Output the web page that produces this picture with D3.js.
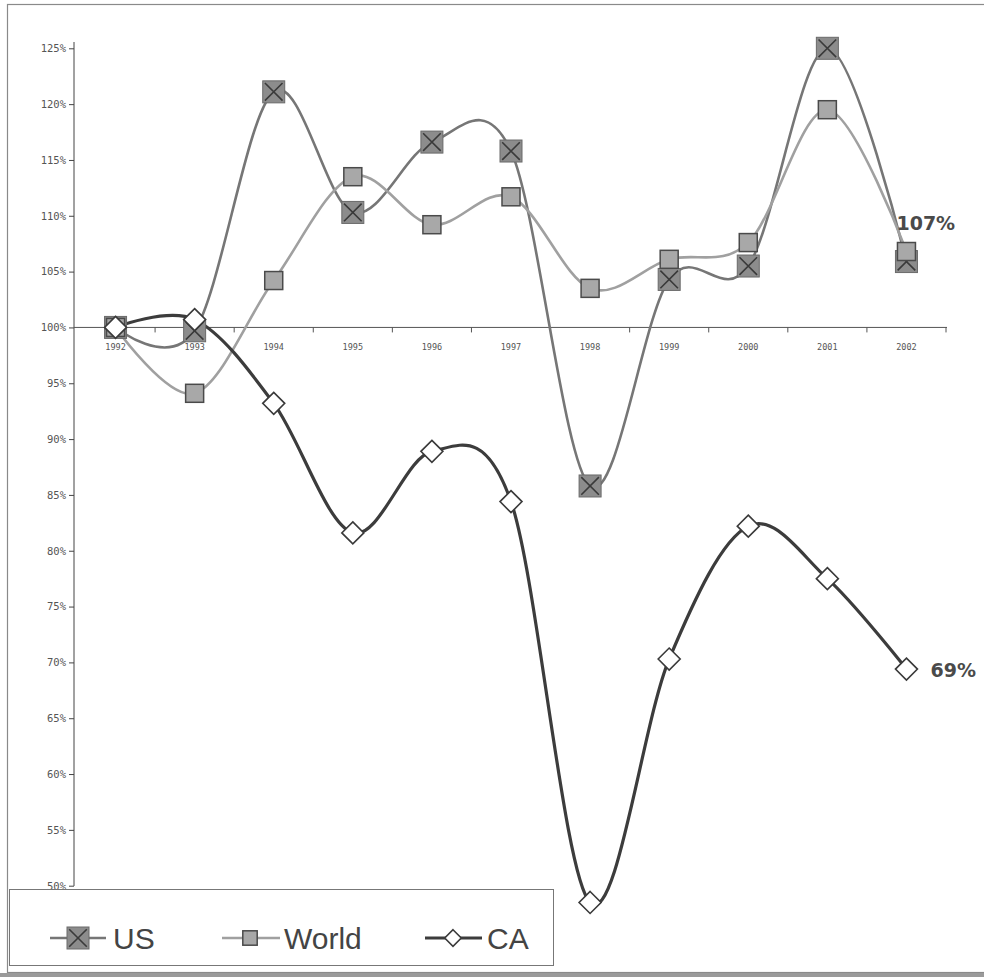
<!DOCTYPE html>
<html>
<head>
<meta charset="utf-8">
<script src="https://cdnjs.cloudflare.com/ajax/libs/d3/7.8.5/d3.min.js"></script>
<style>
html,body{margin:0;padding:0;background:#fff;}
svg{display:block;}
</style>
</head>
<body>
<svg id="chart" width="984" height="977"></svg>
<script>
const years = ["1992","1993","1994","1995","1996","1997","1998","1999","2000","2001","2002"];
const usValues    = [100, 99.7, 121.1, 110.3, 116.6, 115.8, 85.8, 104.3, 105.5, 125.0, 105.9];
const worldValues = [100, 94.1, 104.2, 113.5, 109.2, 111.7, 103.5, 106.1, 107.6, 119.5, 106.8];
const caValues    = [100, 100.7, 93.2, 81.6, 88.9, 84.4, 48.5, 70.3, 82.2, 77.5, 69.4];
const yTicks = [50,55,60,65,70,75,80,85,90,95,100,105,110,115,120,125];
const seriesNames = ["US","World","CA"];
const endLabels = {World:"107%", CA:"69%"};

const svg = d3.select("#chart");
const x = d3.scaleBand().domain(years).range([76, 946]).padding(0);
const xc = d => x(d) + x.bandwidth()/2;
const y = d3.scaleLinear().domain([50,125]).range([885.7, 48.3]);

// outer frame
svg.append("rect").attr("x",7.5).attr("y",4.5).attr("width",990).attr("height",968)
  .attr("fill","none").attr("stroke","#8a8a8a").attr("stroke-width",1.2);
svg.append("rect").attr("x",0).attr("y",973).attr("width",984).attr("height",4).attr("fill","#9a9a9a");

// y axis
const yAxis = d3.axisLeft(y).tickValues(yTicks).tickSize(5).tickFormat(d=>d+"%");
const gy = svg.append("g").attr("transform","translate(74,0)").call(yAxis);
gy.select(".domain").attr("stroke","#444").attr("d","M0,42V886");
gy.selectAll(".tick line").attr("stroke","#444");
gy.selectAll(".tick text").attr("font-family","'DejaVu Sans Mono', monospace").attr("font-size",10.5)
  .attr("fill","#555").attr("x",-8);

// x axis at 100%
const y100 = y(100);
svg.append("line").attr("x1",74).attr("x2",947).attr("y1",y100).attr("y2",y100).attr("stroke","#555").attr("stroke-width",1);
const bounds = years.map(d=>x(d)).concat([x(years[years.length-1])+x.bandwidth()]);
svg.selectAll(".xt").data(bounds.slice(1)).enter().append("line")
  .attr("x1",d=>d).attr("x2",d=>d).attr("y1",y100).attr("y2",y100+5).attr("stroke","#555");
svg.selectAll(".xl").data(years).enter().append("text")
  .attr("x",d=>xc(d)).attr("y",y100+23).attr("text-anchor","middle")
  .attr("font-family","'DejaVu Sans Mono', monospace").attr("font-size",8.5).attr("fill","#555")
  .text(d=>d);

const styles = {
  US:{values:usValues, stroke:"#767676", width:2.6},
  World:{values:worldValues, stroke:"#a0a0a0", width:2.6},
  CA:{values:caValues, stroke:"#3c3c3c", width:3.2}
};
const line = d3.line().x(d=>xc(d.year)).y(d=>y(d.v)).curve(d3.curveCardinal.tension(0));

function drawMarker(g, name, cx, cy, scale){
  scale = scale||1;
  if(name==="US"){
    const s=11*scale;
    g.append("rect").attr("x",cx-s).attr("y",cy-s).attr("width",2*s).attr("height",2*s)
      .attr("fill","#8c8c8c").attr("stroke","#6a6a6a").attr("stroke-width",1);
    g.append("path").attr("d",`M${cx-s*0.8},${cy-s*0.8}L${cx+s*0.8},${cy+s*0.8}M${cx+s*0.8},${cy-s*0.8}L${cx-s*0.8},${cy+s*0.8}`)
      .attr("stroke","#3a3a3a").attr("stroke-width",1.6);
  } else if(name==="World"){
    const s=9*scale;
    g.append("rect").attr("x",cx-s).attr("y",cy-s).attr("width",2*s).attr("height",2*s)
      .attr("fill","#a8a8a8").attr("stroke","#4a4a4a").attr("stroke-width",1.5);
  } else {
    const s=11*scale;
    g.append("path").attr("d",`M${cx},${cy-s}L${cx+s},${cy}L${cx},${cy+s}L${cx-s},${cy}Z`)
      .attr("fill","#fff").attr("stroke","#3a3a3a").attr("stroke-width",1.6);
  }
}

seriesNames.forEach(name=>{
  const st = styles[name];
  const pts = years.map((yr,i)=>({year:yr, v:st.values[i]}));
  svg.append("path").datum(pts).attr("d",line).attr("fill","none")
    .attr("stroke",st.stroke).attr("stroke-width",st.width).attr("stroke-linejoin","round");
});
seriesNames.forEach(name=>{
  const st = styles[name];
  const g = svg.append("g");
  years.forEach((yr,i)=>drawMarker(g, name, xc(yr), y(st.values[i])));
});

// end labels
svg.append("text").attr("x",xc("2002")-10).attr("y",y(worldValues[10])-22)
  .attr("font-family","'DejaVu Sans', sans-serif").attr("font-weight","bold").attr("font-size",19)
  .attr("fill","#4a4a4a").text(endLabels.World);
svg.append("text").attr("x",xc("2002")+24).attr("y",y(caValues[10])+8)
  .attr("font-family","'DejaVu Sans', sans-serif").attr("font-weight","bold").attr("font-size",19)
  .attr("fill","#4a4a4a").text(endLabels.CA);

// legend
const lg = svg.append("g");
lg.append("rect").attr("x",9.5).attr("y",889.5).attr("width",544).attr("height",76)
  .attr("fill","#fff").attr("stroke","#777").attr("stroke-width",1);
const legX = [{n:"US",x1:50,x2:106,mx:78,tx:113},{n:"World",x1:222,x2:280,mx:250,tx:284},{n:"CA",x1:425,x2:482,mx:453,tx:487}];
const ly = 938;
legX.forEach(o=>{
  const st = styles[o.n];
  lg.append("line").attr("x1",o.x1).attr("x2",o.x2).attr("y1",ly).attr("y2",ly)
    .attr("stroke",st.stroke).attr("stroke-width",st.width);
  drawMarker(lg, o.n, o.mx, ly, o.n==="World"?0.8:(o.n==="CA"?0.75:1));
  lg.append("text").attr("x",o.tx).attr("y",ly+11).attr("font-family","'Liberation Sans', Arial, sans-serif")
    .attr("font-size",30).attr("fill","#444").text(o.n);
});
</script>
</body>
</html>
